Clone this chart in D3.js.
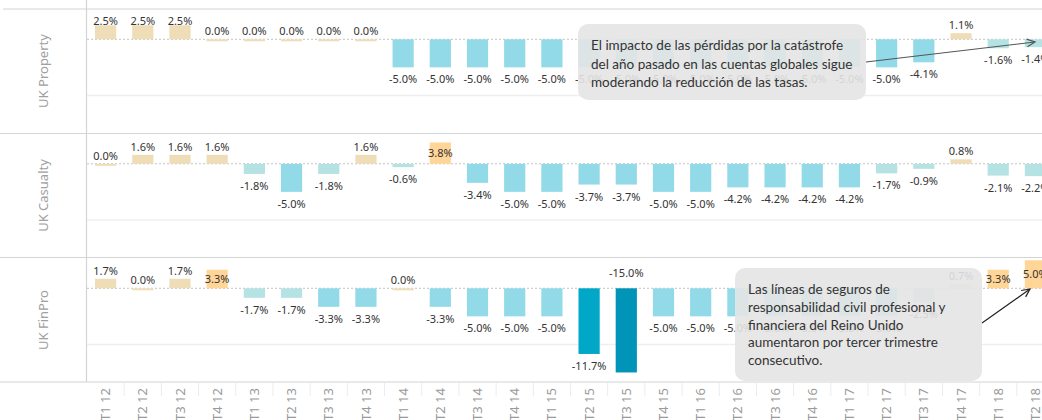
<!DOCTYPE html>
<html>
<head>
<meta charset="utf-8">
<script src="https://cdn.jsdelivr.net/npm/d3@7"></script>
<style>
  body { margin: 0; background: #fff; }
  svg { display: block; }
</style>
</head>
<body>
<div id="chart"></div>
<script>
var categories = ["T1 12", "T2 12", "T3 12", "T4 12", "T1 13", "T2 13", "T3 13", "T4 13",
                  "T1 14", "T2 14", "T3 14", "T4 14", "T1 15", "T2 15", "T3 15", "T4 15",
                  "T1 16", "T2 16", "T3 16", "T4 16", "T1 17", "T2 17", "T3 17", "T4 17",
                  "T1 18", "T2 18"];
var rowNames = ["UK Property", "UK Casualty", "UK FinPro"];

var propertyValues = [2.5, 2.5, 2.5, 0.0, 0.0, 0.0, 0.0, 0.0, -5.0, -5.0, -5.0, -5.0, -5.0,
                      -5.0, -5.0, -5.0, -5.0, -5.0, -5.0, -5.0, -5.0, -5.0, -4.1, 1.1, -1.6, -1.4];
var casualtyValues = [0.0, 1.6, 1.6, 1.6, -1.8, -5.0, -1.8, 1.6, -0.6, 3.8, -3.4, -5.0, -5.0,
                      -3.7, -3.7, -5.0, -5.0, -4.2, -4.2, -4.2, -4.2, -1.7, -0.9, 0.8, -2.1, -2.2];
var finproValues = [1.7, 0.0, 1.7, 3.3, -1.7, -1.7, -3.3, -3.3, 0.0, -3.3, -5.0, -5.0, -5.0,
                    -11.7, -15.0, -5.0, -5.0, -5.0, -5.0, -5.0, -5.0, -5.0, -2.5, 0.7, 3.3, 5.0];

var note1Lines = ["El impacto de las pérdidas por la catástrofe",
                  "del año pasado en las cuentas globales sigue",
                  "moderando la reducción de las tasas."];
var note2Lines = ["Las líneas de seguros de",
                  "responsabilidad civil profesional y",
                  "financiera del Reino Unido",
                  "aumentaron por tercer trimestre",
                  "consecutivo."];

var width = 1042, height = 420;
var left = 87;
var paneTops = [9, 133.5, 258];
var paneHeight = 124;
var labelFont = "'Noto Sans', sans-serif";

var svg = d3.select("#chart").append("svg")
    .attr("width", width)
    .attr("height", height);

var x = d3.scaleBand()
    .domain(categories)
    .range([left, 1054])
    .paddingInner(0.43)
    .paddingOuter(0.215);

// same axis for every row
var y = d3.scaleLinear()
    .domain([-16.7, 5.4])
    .range([paneHeight, 0]);

function barColor(v) {
    if (v >= 3) return "#FFD698";
    if (v >= 0) return "#EEDDB7";
    if (v > -3) return "#B5E2E3";
    if (v > -10) return "#93DAE8";
    if (v > -13) return "#00A7C7";
    return "#0094B8";
}

function drawFrame() {
    // row borders
    var borders = [9, 133.5, 257.5, 382];
    svg.selectAll("line.border")
        .data(borders)
        .enter()
        .append("line")
        .attr("class", "border")
        .attr("x1", function(d, i) { return i == 0 ? 3 : 0; })
        .attr("x2", width)
        .attr("y1", function(d) { return d; })
        .attr("y2", function(d) { return d; })
        .attr("stroke", "#d4d4d4")
        .attr("stroke-width", 1.2);

    svg.append("line")
        .attr("x1", left - 0.5).attr("x2", left - 0.5)
        .attr("y1", 0).attr("y2", 382)
        .attr("stroke", "#d4d4d4")
        .attr("stroke-width", 1.2);

    // faint separators under the axis
    svg.selectAll("line.tick")
        .data(categories.slice(1))
        .enter()
        .append("line")
        .attr("class", "tick")
        .attr("x1", function(d) { return x(d) - x.step() * x.paddingInner() / 2; })
        .attr("x2", function(d) { return x(d) - x.step() * x.paddingInner() / 2; })
        .attr("y1", 383)
        .attr("y2", 396)
        .attr("stroke", "#ececec");

    // x axis labels, rotated
    var axis = d3.axisBottom(x).tickSize(0).tickPadding(0);
    var g = svg.append("g")
        .attr("transform", "translate(0,388)")
        .call(axis);
    g.select(".domain").remove();
    g.selectAll("text")
        .attr("transform", "rotate(-90)")
        .attr("x", 0)
        .attr("y", 0)
        .attr("dy", "0.35em")
        .attr("text-anchor", "end")
        .attr("fill", "#9a9a9a")
        .style("font-family", labelFont)
        .style("font-size", "13px");
}

function drawRow(values, idx) {
    var top = paneTops[idx];
    var pane = svg.append("g").attr("transform", "translate(0," + top + ")");

    pane.append("text")
        .attr("transform", "translate(48," + (paneHeight / 2) + ") rotate(-90)")
        .attr("text-anchor", "middle")
        .attr("fill", "#a0a0a0")
        .style("font-family", labelFont)
        .style("font-size", "13px")
        .text(rowNames[idx]);

    // gridline at -10%
    pane.append("line")
        .attr("x1", left).attr("x2", width)
        .attr("y1", y(-10)).attr("y2", y(-10))
        .attr("stroke", "#efefef")
        .attr("stroke-width", 1.5);

    pane.append("line")
        .attr("x1", left).attr("x2", width)
        .attr("y1", y(0)).attr("y2", y(0))
        .attr("stroke", "#c4c4c4")
        .attr("stroke-dasharray", "2,2");

    pane.selectAll("rect")
        .data(values)
        .enter()
        .append("rect")
        .attr("x", function(d, i) { return x(categories[i]); })
        .attr("width", x.bandwidth())
        .attr("y", function(d) { return d > 0 ? y(d) : y(0); })
        .attr("height", function(d) { return d == 0 ? 2 : Math.abs(y(d) - y(0)); })
        .attr("fill", function(d) { return barColor(d); });

    pane.selectAll("text.value")
        .data(values)
        .enter()
        .append("text")
        .attr("class", "value")
        .attr("x", function(d, i) { return x(categories[i]) + x.bandwidth() / 2; })
        .attr("y", function(d) {
            if (d < 0) {
                var below = y(d) + 16;
                // too deep for the pane: flip it above the zero line
                if (below > paneHeight - 2) return y(0) - 11;
                return below;
            }
            var above = Math.max(y(d) - 4, 16);
            // no room above the bar: put it inside
            if (above > y(d) + 4) return (y(d) + y(0)) / 2 + 4;
            return above;
        })
        .attr("text-anchor", "middle")
        .attr("fill", "#333")
        .style("font-family", labelFont)
        .style("font-size", "11px")
        .text(function(d) { return d.toFixed(1) + "%"; });
}

function drawNote(lines, box, arrow, arrowColor, lineGap) {
    svg.append("line")
        .attr("x1", arrow[0]).attr("y1", arrow[1])
        .attr("x2", arrow[2]).attr("y2", arrow[3])
        .attr("stroke", arrowColor)
        .attr("stroke-width", 1.2);

    // open arrow head
    var ang = Math.atan2(arrow[3] - arrow[1], arrow[2] - arrow[0]);
    var hl = 9, hw = 0.45;
    svg.append("path")
        .attr("d", "M" + (arrow[2] - hl * Math.cos(ang - hw)) + "," + (arrow[3] - hl * Math.sin(ang - hw)) +
                   "L" + arrow[2] + "," + arrow[3] +
                   "L" + (arrow[2] - hl * Math.cos(ang + hw)) + "," + (arrow[3] - hl * Math.sin(ang + hw)))
        .attr("fill", "none")
        .attr("stroke", arrowColor)
        .attr("stroke-width", 1.2);

    svg.append("rect")
        .attr("x", box[0]).attr("y", box[1])
        .attr("width", box[2] - box[0]).attr("height", box[3] - box[1])
        .attr("rx", 10)
        .attr("fill", "#e4e4e4")
        .attr("fill-opacity", 0.9);

    svg.selectAll(null)
        .data(lines)
        .enter()
        .append("text")
        .attr("x", box[0] + 13)
        .attr("y", function(d, i) { return box[1] + 26 + i * lineGap; })
        .attr("fill", "#333")
        .style("font-family", "Lato, sans-serif")
        .style("font-size", "13.5px")
        .text(function(d) { return d; });
}

drawFrame();
drawRow(propertyValues, 0);
drawRow(casualtyValues, 1);
drawRow(finproValues, 2);
drawNote(note1Lines, [578, 24, 866, 100], [866, 62, 1035, 42], "#555", 18.5);
drawNote(note2Lines, [735, 268, 982, 381], [982, 323, 1030, 289], "#222", 17.8);
</script>
</body>
</html>
